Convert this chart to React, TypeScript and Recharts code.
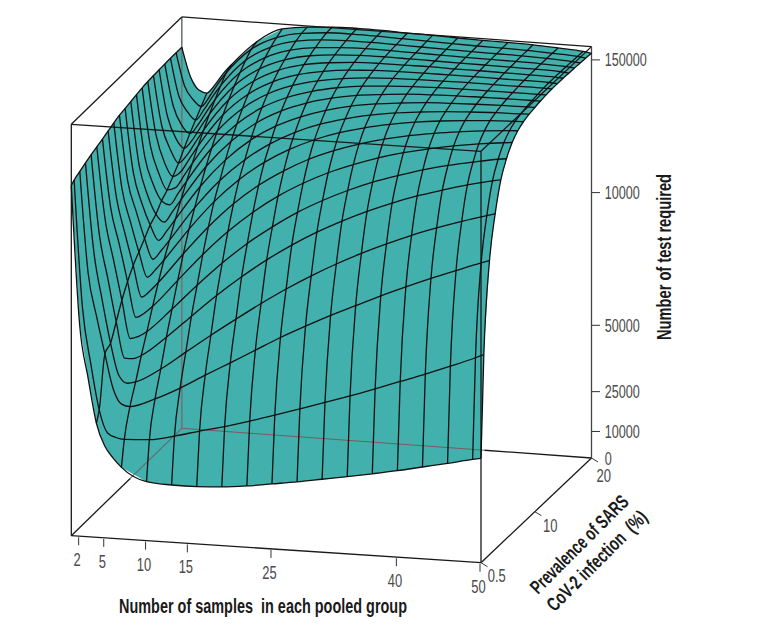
import React from "react";
import { ComposedChart, XAxis, YAxis, Line, Area, Scatter } from "recharts";

// Number of samples in each pooled group (grid columns of the surface)
const sampleGrid = [1, 2, 3, 4, 5, 6, 7, 10, 13, 16, 19, 22, 25, 28, 31, 34, 37, 40, 43, 46, 49, 50];
// Columns that carry a mesh line
const sampleLines = [1, 4, 7, 10, 13, 16, 19, 22, 25, 28, 31, 34, 37, 40, 43, 46, 49, 50];
// Prevalence (%) of every mesh row
const prevalenceGrid = [0.5, 1, 2, 3, 4, 5, 6, 7, 8, 9, 10, 11, 12, 13, 14, 15, 16, 17, 18, 19, 20];

// Thousands of tests required, one list per prevalence row
const testsP0 = [132, 79.6, 60, 43, 34.6, 30.3, 27, 22.2, 21.6, 21.6, 22.1, 23.1, 24.5, 25.9, 27.5, 29.1, 30.8, 32.6, 34.6, 36.6, 38.7, 39.3];
const testsP1 = [133, 85, 64, 47, 38.5, 37, 36.5, 37, 39, 41.5, 43.8, 46.5, 49.4, 52.4, 55.4, 58.5, 61.8, 65.2, 68.6, 72.2, 76, 77.4];
const testsP2 = [134.2, 96, 80, 66, 53, 47.5, 46.8, 50.3, 55, 60.5, 65.8, 71.2, 76.6, 81.5, 86.2, 90.5, 94.8, 98.8, 102.6, 106.2, 109.7, 110.8];
const testsP3 = [135.3, 102, 84, 68, 56, 53.3, 54, 59.5, 66.5, 73.5, 80.2, 86.7, 92.8, 98.4, 103.5, 108.1, 112.3, 116.2, 119.6, 122.7, 125.5, 126.4];
const testsP4 = [136.3, 106, 90, 74, 60.5, 60.5, 61.9, 69.4, 78, 86.4, 94.1, 101.1, 107.3, 112.8, 117.6, 121.9, 125.7, 129, 131.8, 134.4, 136.6, 137.2];
const testsP5 = [137.2, 110, 95, 80, 65.8, 66.8, 68.9, 78, 87.6, 96.6, 104.6, 111.5, 117.6, 122.7, 127.1, 130.9, 134, 136.8, 139.1, 141, 142.7, 143.1];
const testsP6 = [138, 112, 99, 85, 71.7, 73.5, 76.3, 86.7, 97.1, 106.4, 114.3, 121, 126.5, 131.1, 134.8, 138, 140.6, 142.7, 144.4, 145.8, 146.9, 147.2];
const testsP7 = [139, 114, 101, 89, 77.3, 79.8, 83.2, 94.7, 105.5, 114.8, 122.4, 128.5, 133.5, 137.4, 140.5, 143, 145, 146.5, 147.7, 148.7, 149.4, 149.6];
const testsP8 = [140, 115, 103, 92, 82.7, 85.8, 89.6, 101.9, 112.9, 121.9, 129, 134.5, 138.8, 142.1, 144.6, 146.5, 148, 149.1, 149.9, 150.5, 150.9, 151];
const testsP9 = [140.8, 116, 105, 95, 87.4, 90.9, 95.1, 107.9, 118.8, 127.3, 133.9, 138.9, 142.6, 145.3, 147.3, 148.8, 149.8, 150.6, 151.1, 151.5, 151.7, 151.8];
const testsP10 = [141.3, 117, 106, 98, 92.4, 96.3, 100.8, 113.9, 124.5, 132.6, 138.5, 142.7, 145.8, 148, 149.5, 150.5, 151.3, 151.7, 152, 152.2, 152.3, 152.3];
const testsP11 = [141.8, 118, 107, 100, 97.2, 101.5, 106.1, 119.3, 129.5, 137, 142.2, 145.8, 148.3, 150, 151, 151.8, 152.2, 152.5, 152.6, 152.7, 152.7, 152.7];
const testsP12 = [142.3, 119, 109, 103, 101.7, 106.3, 111.1, 124.2, 133.9, 140.7, 145.2, 148.2, 150.2, 151.5, 152.1, 152.6, 152.9, 153, 153, 153, 153, 153];
const testsP13 = [142.8, 121, 111, 105, 106.1, 110.8, 115.7, 128.6, 137.7, 143.8, 147.7, 150.1, 151.6, 152.5, 153, 153.2, 153.3, 153.4, 153.3, 153.3, 153.3, 153.2];
const testsP14 = [143.1, 123, 113, 108, 110.2, 115.2, 120.1, 132.6, 141, 146.4, 149.7, 151.6, 152.7, 153.3, 153.5, 153.6, 153.6, 153.6, 153.5, 153.5, 153.4, 153.2];
const testsP15 = [143.3, 124.5, 116, 111, 114.2, 119.2, 124.1, 136.2, 143.9, 148.7, 151.4, 152.8, 153.6, 153.9, 153.9, 154, 153.8, 153.8, 153.7, 153.6, 153.4, 153.2];
const testsP16 = [143.4, 126, 118, 114.5, 118, 123.1, 127.9, 139.4, 146.4, 150.5, 152.7, 153.7, 154.2, 154.3, 154.2, 154.1, 154, 153.9, 153.8, 153.7, 153.4, 153.1];
const testsP17 = [143.5, 128, 121, 118, 121.6, 126.7, 131.4, 142.3, 148.6, 152.1, 153.7, 154.4, 154.7, 154.6, 154.4, 154.3, 154.1, 154, 153.9, 153.7, 153.3, 153];
const testsP18 = [143.6, 129.6, 124, 121, 125.1, 130.1, 134.6, 144.9, 150.5, 153.4, 154.6, 155, 155, 154.8, 154.6, 154.4, 154.2, 154.1, 154, 153.7, 153.2, 152.9];
const testsP19 = [143.6, 131.4, 126.5, 124, 128, 133, 137.4, 147, 152, 154.3, 155.2, 155.4, 155.3, 155, 154.8, 154.5, 154.3, 154.2, 154, 153.6, 153.1, 152.7];
const testsP20 = [143.6, 133, 128, 127, 130.5, 135, 138.6, 147.8, 153.2, 154.6, 155.3, 155.5, 155.4, 155.1, 154.9, 154.6, 154.4, 154.3, 154.1, 153.6, 153, 152.5];

const testsByRow = [testsP0, testsP1, testsP2, testsP3, testsP4, testsP5, testsP6, testsP7, testsP8, testsP9, testsP10, testsP11, testsP12, testsP13, testsP14, testsP15, testsP16, testsP17, testsP18, testsP19, testsP20];

// Axis ticks
const sampleTicks = [2, 5, 10, 15, 25, 40, 50];
const prevalenceTicks = [0.5, 10, 20];
const prevalenceTickLabels = ["0.5", "10", "20"];
const testTicks = [0, 10, 25, 50, 100, 150];
const testTickLabels = ["0", "10000", "25000", "50000", "10000", "150000"];

// Box limits
const nMin = 1, nMax = 50, pMin = 0.5, pMax = 20, zTop = 155;

// Fixed parallel view of the 3D box
const project = (n: number, p: number, z: number) => {
  const u = (n - nMin) / (nMax - nMin);
  const v = (p - pMin) / (pMax - pMin);
  return {
    x: 71.3 + 409.7 * u + 110.5 * v,
    y: 535.7 + 27 * u - 107.4 * v + 2.7 * u * v - 2.654 * z,
  };
};

const rowLine = (r: number) => sampleGrid.map((n, c) => project(n, prevalenceGrid[r], testsByRow[r][c]));
const colLine = (n: number) => {
  const c = sampleGrid.indexOf(n);
  return prevalenceGrid.map((p, r) => project(n, p, testsByRow[r][c]));
};

// Filled surface: band between upper and lower outline of the projected grid
const upper = [...colLine(nMin), ...rowLine(prevalenceGrid.length - 1).slice(1)];
const lower = [...rowLine(0), ...colLine(nMax).slice(1)];
const at = (path: { x: number; y: number }[], x: number) => {
  for (let i = 1; i < path.length; i++) {
    if (x <= path[i].x) {
      const a = path[i - 1], b = path[i];
      const t = b.x === a.x ? 0 : (x - a.x) / (b.x - a.x);
      return a.y + t * (b.y - a.y);
    }
  }
  return path[path.length - 1].y;
};
const surfaceXs = Array.from(new Set([...upper, ...lower].map((d) => d.x))).sort((a, b) => a - b);
const surfaceBand = surfaceXs.map((x) => ({ x, range: [at(lower, x), at(upper, x)] }));

const seg = (a: number[], b: number[]) => [project(a[0], a[1], a[2]), project(b[0], b[1], b[2])];

const boxBlack = [
  seg([nMin, pMin, 0], [nMin, pMin, zTop]),
  seg([nMin, pMin, zTop], [nMax, pMin, zTop]),
  seg([nMax, pMin, 0], [nMax, pMin, zTop]),
  seg([nMin, pMin, 0], [nMax, pMin, 0]),
  seg([nMin, pMax, zTop], [nMax, pMax, zTop]),
  seg([nMin, pMin, zTop], [nMin, pMax, zTop]),
  seg([nMax, pMin, zTop], [nMax, pMax, zTop]),
  seg([nMax, pMin, 0], [nMax, pMax, 0]),
  seg([nMin, pMin, 0], [nMin, 10.9, 0]),
  seg([37.2, pMax, 0], [nMax, pMax, 0]),
];
const boxHidden = [
  { pts: seg([nMin, pMax, 0], [nMin, pMax, zTop]), color: "#6b7778", w: 1.6 },
  { pts: seg([nMin, 10.9, 0], [nMin, pMax, 0]), color: "#5f6b6b", w: 1.1 },
  { pts: seg([nMin, pMax, 0], [37.2, pMax, 0]), color: "#7c5a5c", w: 1 },
];
const zAxisLine = seg([nMax, pMax, 0], [nMax, pMax, zTop]);

const tickSegs = [
  ...sampleTicks.map((n) => {
    const a = project(n, pMin, 0);
    return [{ x: a.x - 1, y: a.y + 1 }, { x: a.x - 1, y: a.y + 9 }];
  }),
  ...prevalenceTicks.map((p) => {
    const a = project(nMax, p, 0);
    return [a, { x: a.x + 6.5, y: a.y + 4 }];
  }),
  ...testTicks.filter((z) => z > 0).map((z) => {
    const a = project(nMax, pMax, z);
    return [a, { x: a.x + 8.5, y: a.y }];
  }),
];

const NARROW = '"Liberation Sans Narrow", "Liberation Sans", sans-serif';
const prevalenceLabelDx = [15.7, 15.4, 12.3];
const prevalenceLabelDy = [13, 14, 17.5];

const labels = [
  ...sampleTicks.map((n) => {
    const a = project(n, pMin, 0);
    return { x: a.x - 2.5, y: a.y + 24, label: String(n), anchor: "middle", fs: 18, len: String(n).length * 7.2 };
  }),
  ...prevalenceTicks.map((p, i) => {
    const a = project(nMax, p, 0);
    return { x: a.x + prevalenceLabelDx[i], y: a.y + prevalenceLabelDy[i], label: prevalenceTickLabels[i], anchor: "middle", fs: 18, len: i === 0 ? 18 : 14.5 };
  }),
  ...testTicks.map((z, i) => {
    const a = project(nMax, pMax, z);
    return { x: a.x + 13.3, y: a.y + 0.5, label: testTickLabels[i], anchor: "start", fs: 18, len: testTickLabels[i].length * 7 };
  }),
  { x: 263, y: 605.5, label: "Number of samples  in each pooled group", anchor: "middle", fs: 19.5, len: 288, bold: true },
  { x: 663.5, y: 257, label: "Number of test required", anchor: "middle", fs: 19.5, len: 166, bold: true, rot: -90 },
  { x: 579, y: 544, label: "Prevalence of SARS", anchor: "middle", fs: 19.5, len: 130, bold: true, rot: -45 },
  { x: 596.5, y: 560.5, label: "CoV-2 infection  (%)", anchor: "middle", fs: 19.5, len: 133, bold: true, rot: -45 },
];

const LabelMark = (props: any) => {
  const { cx, cy, payload: d } = props;
  return (
    <text
      x={cx}
      y={cy}
      textAnchor={d.anchor}
      dominantBaseline="central"
      fontFamily={NARROW}
      fontSize={d.fs}
      fontWeight={d.bold ? 700 : 400}
      fill={d.bold ? "#1a1a1a" : "#4a4a4a"}
      textLength={d.len}
      lengthAdjust="spacingAndGlyphs"
      style={{ whiteSpace: "pre" }}
      transform={d.rot ? `rotate(${d.rot} ${cx} ${cy})` : undefined}
    >
      {d.label}
    </text>
  );
};

const meshProps = { dataKey: "y", dot: false, activeDot: false, isAnimationActive: false, legendType: "none" as const };

export default function App() {
  return (
    <div style={{ position: "absolute", left: 0, top: 0, width: 771, height: 631 }}>
      <ComposedChart width={771} height={631} margin={{ top: 0, right: 0, bottom: 0, left: 0 }}>
        <XAxis dataKey="x" type="number" domain={[0, 771]} hide allowDataOverflow />
        <YAxis type="number" domain={[0, 631]} reversed hide allowDataOverflow width={0} />

        <Area
          data={surfaceBand}
          dataKey="range"
          type="linear"
          fill="#42b0ad"
          fillOpacity={1}
          stroke="none"
          dot={false}
          activeDot={false}
          isAnimationActive={false}
        />

        {boxHidden.map((b, i) => (
          <Line key={`h${i}`} {...meshProps} data={b.pts} stroke={b.color} strokeWidth={b.w} type="linear" />
        ))}
        {boxBlack.map((pts, i) => (
          <Line key={`b${i}`} {...meshProps} data={pts} stroke="#1a1a1a" strokeWidth={1.3} type="linear" />
        ))}
        <Line {...meshProps} data={zAxisLine} stroke="#444" strokeWidth={1.3} type="linear" />
        {tickSegs.map((pts, i) => (
          <Line key={`t${i}`} {...meshProps} data={pts} stroke="#333" strokeWidth={1} type="linear" />
        ))}

        {prevalenceGrid.map((_, r) => (
          <Line key={`r${r}`} {...meshProps} data={rowLine(r)} stroke="#111" strokeWidth={1.3} type="monotone" />
        ))}
        {sampleLines.map((n) => (
          <Line key={`c${n}`} {...meshProps} data={colLine(n)} stroke="#111" strokeWidth={1.3} type="monotone" />
        ))}

        <Scatter data={labels} dataKey="y" shape={LabelMark} isAnimationActive={false} legendType="none" />
      </ComposedChart>
    </div>
  );
}
